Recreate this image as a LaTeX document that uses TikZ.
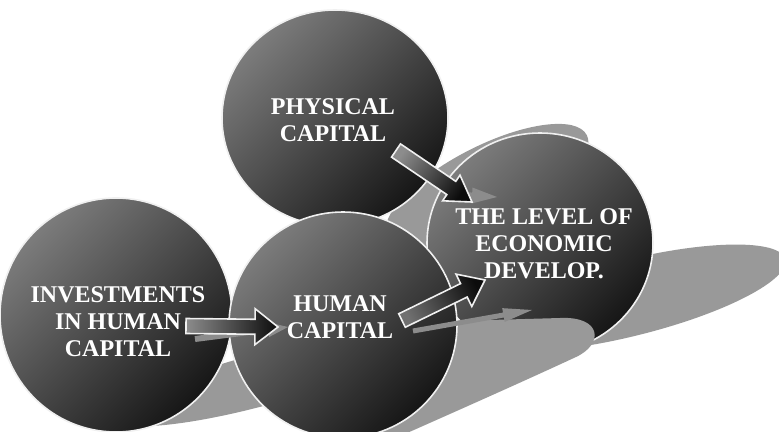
\documentclass[tikz,border=0pt]{standalone}
\usepackage{fontspec}
\setmainfont{Liberation Serif}
\usetikzlibrary{shapes.geometric,calc}

\definecolor{shadowgrey}{RGB}{153,153,153}
\definecolor{ghostgrey}{RGB}{140,140,140}
\definecolor{orblight}{RGB}{124,124,124}
\definecolor{orbdark}{RGB}{22,22,22}
\definecolor{rimwhite}{RGB}{240,240,240}
\definecolor{arrlight}{RGB}{140,140,140}
\definecolor{arrdark}{RGB}{12,12,12}

\tikzset{
  orb/.style={ellipse, draw=rimwhite, line width=1.6pt, top color=orblight,
    bottom color=orbdark, shading angle=45, inner sep=0pt},
  shadowblob/.style={fill=shadowgrey, draw=none},
  orblabel/.style={text=white, align=center, inner sep=0pt,
    font=\bfseries\fontsize{24}{27}\selectfont},
  blockarrow/.style={draw=rimwhite, line width=1.6pt, line join=miter},
  ghostarrow/.style={fill=ghostgrey, draw=none},
}

% block arrow from #2 to #3: #4 shaft half width, #5 head half width, #6 head length
\newcommand\blockarrow[6]{%
  \coordinate (#2-#3-base) at ($(#3)!#6!(#2)$);
  \path[#1] ($(#2)!#4!90:(#3)$)
    -- ($(#2-#3-base)!#4!-90:(#2)$)
    -- ($(#2-#3-base)!#5!-90:(#2)$)
    -- (#3)
    -- ($(#2-#3-base)!#5!90:(#2)$)
    -- ($(#2-#3-base)!#4!90:(#2)$)
    -- ($(#2)!#4!-90:(#3)$) -- cycle;
}

\begin{document}
\begin{tikzpicture}[x=1pt,y=-1pt]
\path[use as bounding box, fill=white] (0,0) rectangle (779,431);

% shadows cast by the upper spheres
\fill[shadowblob, rotate around={27:(487,186)}] (487,186) ellipse [x radius=112, y radius=40];
\fill[shadowblob, rotate around={14:(630,298)}] (630,298) ellipse [x radius=160, y radius=38];

\node[orb, minimum width=226pt, minimum height=220pt] (econ) at (540,243) {};
\node[orb, minimum width=226pt, minimum height=216pt] (phys) at (335,118) {};

% shadows cast by the lower spheres
\fill[shadowblob] (420,322) -- (560,318)
  .. controls (602,316) and (604,344) .. (576,357)
  .. controls (520,383) and (450,414) .. (380,445)
  -- (380,400) -- cycle;
\fill[shadowblob, rotate around={15:(260,380)}] (260,380) ellipse [x radius=150, y radius=26];

\node[orb, minimum width=232pt, minimum height=234pt] (invest) at (116,315) {};
\node[orb, minimum width=228pt, minimum height=226pt] (human) at (343,325) {};

% arrow end points
\coordinate (pa-s) at (396,150.5);  \coordinate (pa-e) at (472,202);
\coordinate (ia-s) at (186,326);    \coordinate (ia-e) at (278,327);
\coordinate (ha-s) at (402,320.5);  \coordinate (ha-e) at (485,280);
\coordinate (pg-s) at (445,194);    \coordinate (pg-e) at (497,197);
\coordinate (ig-s) at (195,339);    \coordinate (ig-e) at (288,327);
\coordinate (hg-s) at (413,331);    \coordinate (hg-e) at (532,310);

% flat shadows of the arrows
\blockarrow{ghostarrow}{pg-s}{pg-e}{3pt}{8pt}{25pt}
\blockarrow{ghostarrow}{ig-s}{ig-e}{3pt}{7.5pt}{20pt}
\blockarrow{ghostarrow}{hg-s}{hg-e}{2.5pt}{7pt}{29pt}

% block arrows
\blockarrow{blockarrow, top color=arrlight, bottom color=arrdark, shading angle=55}{pa-s}{pa-e}{8pt}{15.5pt}{25pt}
\blockarrow{blockarrow, top color=arrlight, bottom color=arrdark, shading angle=90}{ia-s}{ia-e}{7.5pt}{18pt}{23pt}
\blockarrow{blockarrow, top color=arrlight!80!black, bottom color=arrdark, shading angle=116}{ha-s}{ha-e}{7.5pt}{18pt}{23.5pt}

% labels
\node[orblabel] (physT) at (333,120) {PHYSICAL\\CAPITAL};
\node[orblabel] (investT) at (118,322) {INVESTMENTS\\IN HUMAN\\CAPITAL};
\node[orblabel] (humanT) at (340,317) {HUMAN\\CAPITAL};
\node[orblabel] (econT) at (544,244) {THE LEVEL OF\\ECONOMIC\\DEVELOP.};
\end{tikzpicture}
\end{document}
